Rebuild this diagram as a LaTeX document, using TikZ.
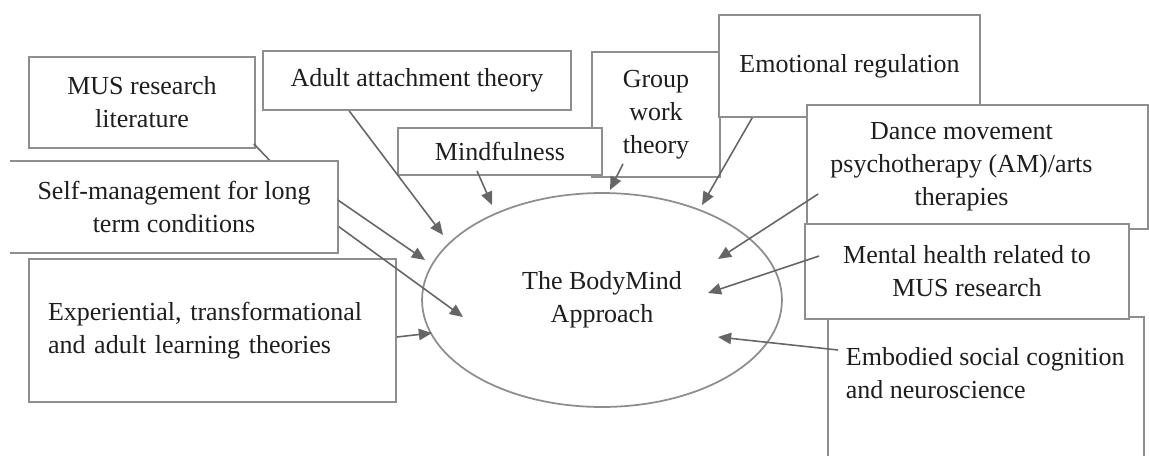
\documentclass[tikz,border=0pt]{standalone}
\usepackage{fontspec}
\setmainfont{Liberation Serif}
\usetikzlibrary{positioning,arrows.meta,calc,shapes.geometric}
\definecolor{boxgray}{HTML}{8E8E8E}
\definecolor{arrgray}{HTML}{666666}
\definecolor{txtgray}{HTML}{1E1E1E}

\begin{document}
\begin{tikzpicture}[x=0.02cm, y=-0.02cm,
    box/.style={draw=boxgray, line width=1pt, fill=white, align=center, inner sep=0pt,
      text=txtgray, font=\fontsize{14.8}{18.8}\selectfont},
    feed/.style={draw=arrgray, line width=0.9pt, -{Triangle[length=7.5pt, width=6.5pt]}}]
    \useasboundingbox (0,0) rectangle (1149,456);
    % the approach in the middle
    \node[box, ellipse, minimum width=7.2cm, minimum height=4.28cm] (bm) at (602,300) {The BodyMind\\Approach};
    % arrow tips
    \coordinate (t-mus) at (463,317);
    \coordinate (musbend) at (320,213);
    \coordinate (t-selfm) at (425,260);
    \coordinate (t-exper) at (432,333);
    \coordinate (t-adult) at (443,235);
    \coordinate (t-mind) at (492,205);
    \coordinate (t-group) at (610,190);
    \coordinate (t-emo) at (702,205);
    \coordinate (t-dance) at (718,259);
    \coordinate (t-mental) at (708,293);
    \coordinate (t-embod) at (718,337);
    % left side
    \node[box, minimum width=4.52cm, minimum height=1.82cm] (mus) at (142,102.5) {MUS research\\literature};
    \node[box, minimum width=6.16cm, minimum height=1.18cm] (adult) at (417,80.5) {Adult attachment theory};
    \node[box, align=left, text width=6.58cm, inner xsep=0.38cm, minimum height=2.86cm] (exper) at (212.5,330.5) {Experiential, transformational\\and adult learning theories};
    \draw[feed] ($(mus.south east)+(-2,-5)$) -- (musbend) -- (t-mus);
    \node[box, draw=none, minimum width=6.52cm, minimum height=1.8cm] (selfm) at (174,207) {Self-management for long\\term conditions};
    \draw[boxgray, line width=1pt] (selfm.north west) -- (selfm.north east) -- (selfm.south east) -- (selfm.south west);
    % top
    \node[box, minimum width=2.56cm, minimum height=2.5cm] (group) at (656,114.5) {Group\\work\\theory};
    \node[box, minimum width=4.08cm, minimum height=0.94cm] (mind) at (500,151.5) {Mindfulness};
    \node[box, minimum width=5.22cm, minimum height=2.04cm] (emo) at (849.5,66) {Emotional regulation};
    % right side
    \node[box, minimum width=6.82cm, minimum height=2.48cm] (dance) at (977.5,167) {\parbox{6cm}{\centering Dance movement\\psychotherapy (AM)/arts\\therapies}\hspace*{0.64cm}};
    \node[box, anchor=north west, minimum width=6.32cm] (embod) at (827,316) {\hspace*{0.36cm}\parbox[c][3.08cm][t]{5.96cm}{\raggedright\vspace*{0.62cm}Embodied social cognition\\and neuroscience}};
    \node[box, minimum width=6.48cm, minimum height=1.9cm] (mental) at (967,271.5) {Mental health related to\\MUS research};
    % feeds into the approach
    \draw[feed] ($(selfm.east)+(0,-7)$) -- (t-selfm);
    \draw[feed] ($(exper.east)+(0,6.5)$) -- (t-exper);
    \draw[feed] ($(adult.south west)+(87,0)$) -- (t-adult);
    \draw[feed] ($(mind.south)+(-23,-5)$) -- (t-mind);
    \draw[feed] ($(group.south)+(-33,-14)$) -- (t-group);
    \draw[feed] ($(emo.south west)+(34,0)$) -- (t-emo);
    \draw[feed] ($(dance.west)+(12,27)$) -- (t-dance);
    \draw[feed] ($(mental.west)+(15,-15.5)$) -- (t-mental);
    \draw[feed] ($(embod.north west)+(11,34)$) -- (t-embod);
\end{tikzpicture}
\end{document}
